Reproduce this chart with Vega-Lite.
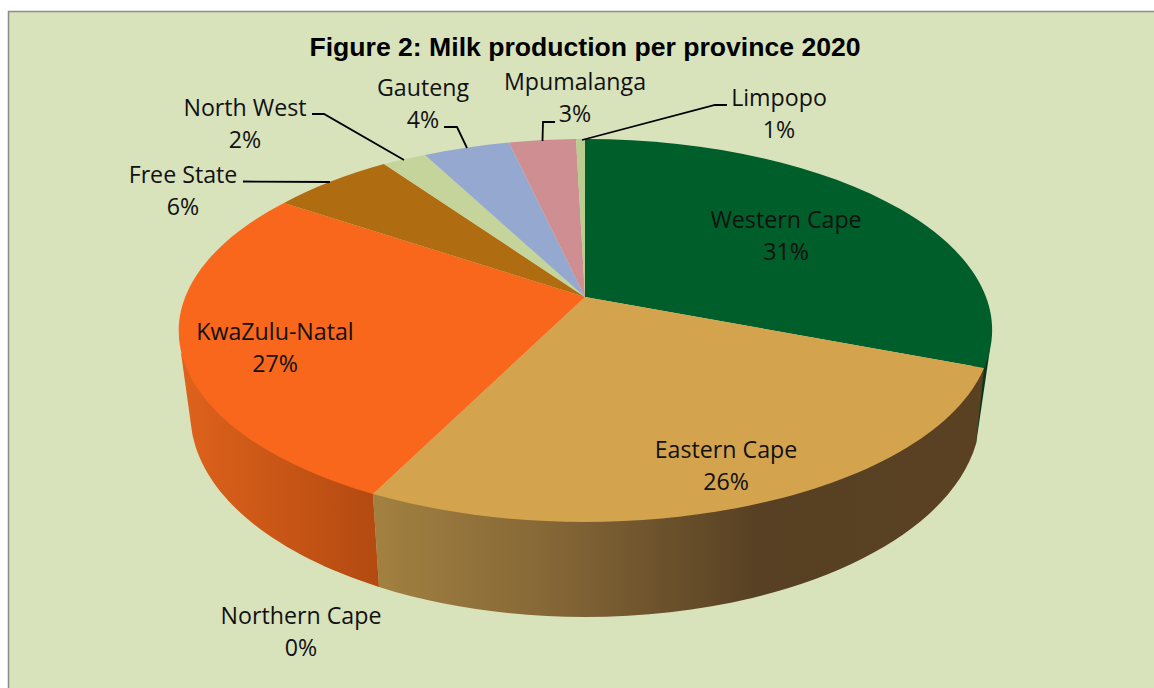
{
"$schema":"https://vega.github.io/schema/vega-lite/v6.json",
"width":1154,"height":688,"padding":0,"autosize":{"type":"none"},"background":"#ffffff",
"view":{"stroke":null},
"title":{"text":"Figure 2: Milk production per province 2020","font":"Liberation Sans","fontSize":26.6,"fontWeight":"bold","color":"#000000","anchor":"middle","orient":"top","offset":-83,"baseline":"alphabetic","dx":8},
"data":{"values":[
{"province":"Western Cape","share":31},
{"province":"Eastern Cape","share":26},
{"province":"Northern Cape","share":0},
{"province":"KwaZulu-Natal","share":27},
{"province":"Free State","share":6},
{"province":"North West","share":2},
{"province":"Gauteng","share":4},
{"province":"Mpumalanga","share":3},
{"province":"Limpopo","share":1}
]},
"resolve":{"scale":{"shape":"independent","color":"independent"}},
"layer":[
{"data":{"values":[{"panel":"chart area"}]},
 "mark":{"type":"point","filled":true,"opacity":1,"size":4,"fill":"#D8E3BC","stroke":"#8C8C8C","strokeWidth":1.5,"shape":"M-568.5,-332.5 L600,-332.5 L600,400 L-568.5,400 Z"}},
{"transform":[{"filter":"datum.province==='Western Cape'"}],
 "mark":{"type":"point","filled":true,"opacity":1,"size":4,"fill":"#06381C","shape":"M413,5 L399,100 L395,20 Z"}},
{"transform":[{"filter":"datum.province==='Eastern Cape'"}],
 "mark":{"type":"point","filled":true,"opacity":1,"size":4,"shape":"M-204,150 L-198,243 A395,203 0 0 0 399,100 L407,24 Z",
  "fill":{"gradient":"linear","x1":0,"y1":0,"x2":1,"y2":0,"stops":[{"offset":0,"color":"#A28140"},{"offset":0.3,"color":"#846636"},{"offset":0.63,"color":"#574023"},{"offset":1,"color":"#5A4122"}]}}},
{"transform":[{"filter":"datum.province==='KwaZulu-Natal'"}],
 "mark":{"type":"point","filled":true,"opacity":1,"size":4,"shape":"M-396,9 L-385,88 A395,203 0 0 0 -198,243 L-204,150 Z",
  "fill":{"gradient":"linear","x1":0,"y1":0,"x2":1,"y2":0,"stops":[{"offset":0,"color":"#DE621C"},{"offset":1,"color":"#B34A10"}]}}},
{"transform":[{"filter":"datum.share>0"}],
 "mark":{"type":"point","filled":true,"opacity":1,"size":4},
 "encoding":{
  "shape":{"field":"province","type":"nominal","legend":null,"scale":{"domain":["Western Cape","Eastern Cape","KwaZulu-Natal","Free State","North West","Gauteng","Mpumalanga","Limpopo"],
   "range":["M8,-47 L8,-205 A407,191 0 0 1 407,24 Z","M8,-47 L407,24 A407,191 0 0 1 -204,150 Z","M8,-47 L-204,150 A407,191 0 0 1 -293,-141 Z","M8,-47 L-293,-141 A407,191 0 0 1 -193,-180 Z","M8,-47 L-193,-180 A407,191 0 0 1 -152,-189 Z","M8,-47 L-152,-189 A407,191 0 0 1 -68,-201.5 Z","M8,-47 L-68,-201.5 A407,191 0 0 1 -1,-205 Z","M8,-47 L-1,-205 A407,191 0 0 1 8,-205 Z"]}},
  "color":{"field":"province","type":"nominal","legend":null,"scale":{"domain":["Western Cape","Eastern Cape","KwaZulu-Natal","Free State","North West","Gauteng","Mpumalanga","Limpopo"],
   "range":["#005E2A","#D4A34E","#F8671B","#B06C10","#C4D49A","#95A9D0","#CE8E92","#B9CD90"]}}
 }},
{"transform":[{"filter":"indexof(['Free State','North West','Gauteng','Mpumalanga','Limpopo'],datum.province)>=0"}],
 "mark":{"type":"point","filled":false,"opacity":1,"size":4,"stroke":"#000000","strokeWidth":1.8},
 "encoding":{
  "shape":{"field":"province","type":"nominal","legend":null,"scale":{"domain":["Free State","North West","Gauteng","Mpumalanga","Limpopo"],
   "range":["M-334,-162.5 L-247,-162","M-265,-230 L-253,-230 L-173,-184","M-133,-217 L-120,-217 L-110,-196","M-22,-222 L-34,-222 L-34.5,-203","M150,-239 L138,-239 L5,-204"]}}
 }},
{"transform":[{"calculate":"[datum.province, datum.share + '%']","as":"label"}],
 "mark":{"type":"text","font":"Open Sans","fontSize":23.2,"lineHeight":32,"align":"center","baseline":"middle","color":"#111111"},
 "encoding":{
  "text":{"field":"label"},
  "x":{"field":"share","type":"quantitative","axis":null,"scale":{"domain":[0,1,2,3,4,6,26,27,31],"range":[301,779,245,575,423,183,726,275,786],"nice":false,"zero":false}},
  "y":{"field":"share","type":"quantitative","axis":null,"scale":{"domain":[0,1,2,3,4,6,26,27,31],"range":[616.5,98.5,108.5,82.5,88.5,175.5,450.5,332.5,220.5],"nice":false,"zero":false}}
 }}
]
}
